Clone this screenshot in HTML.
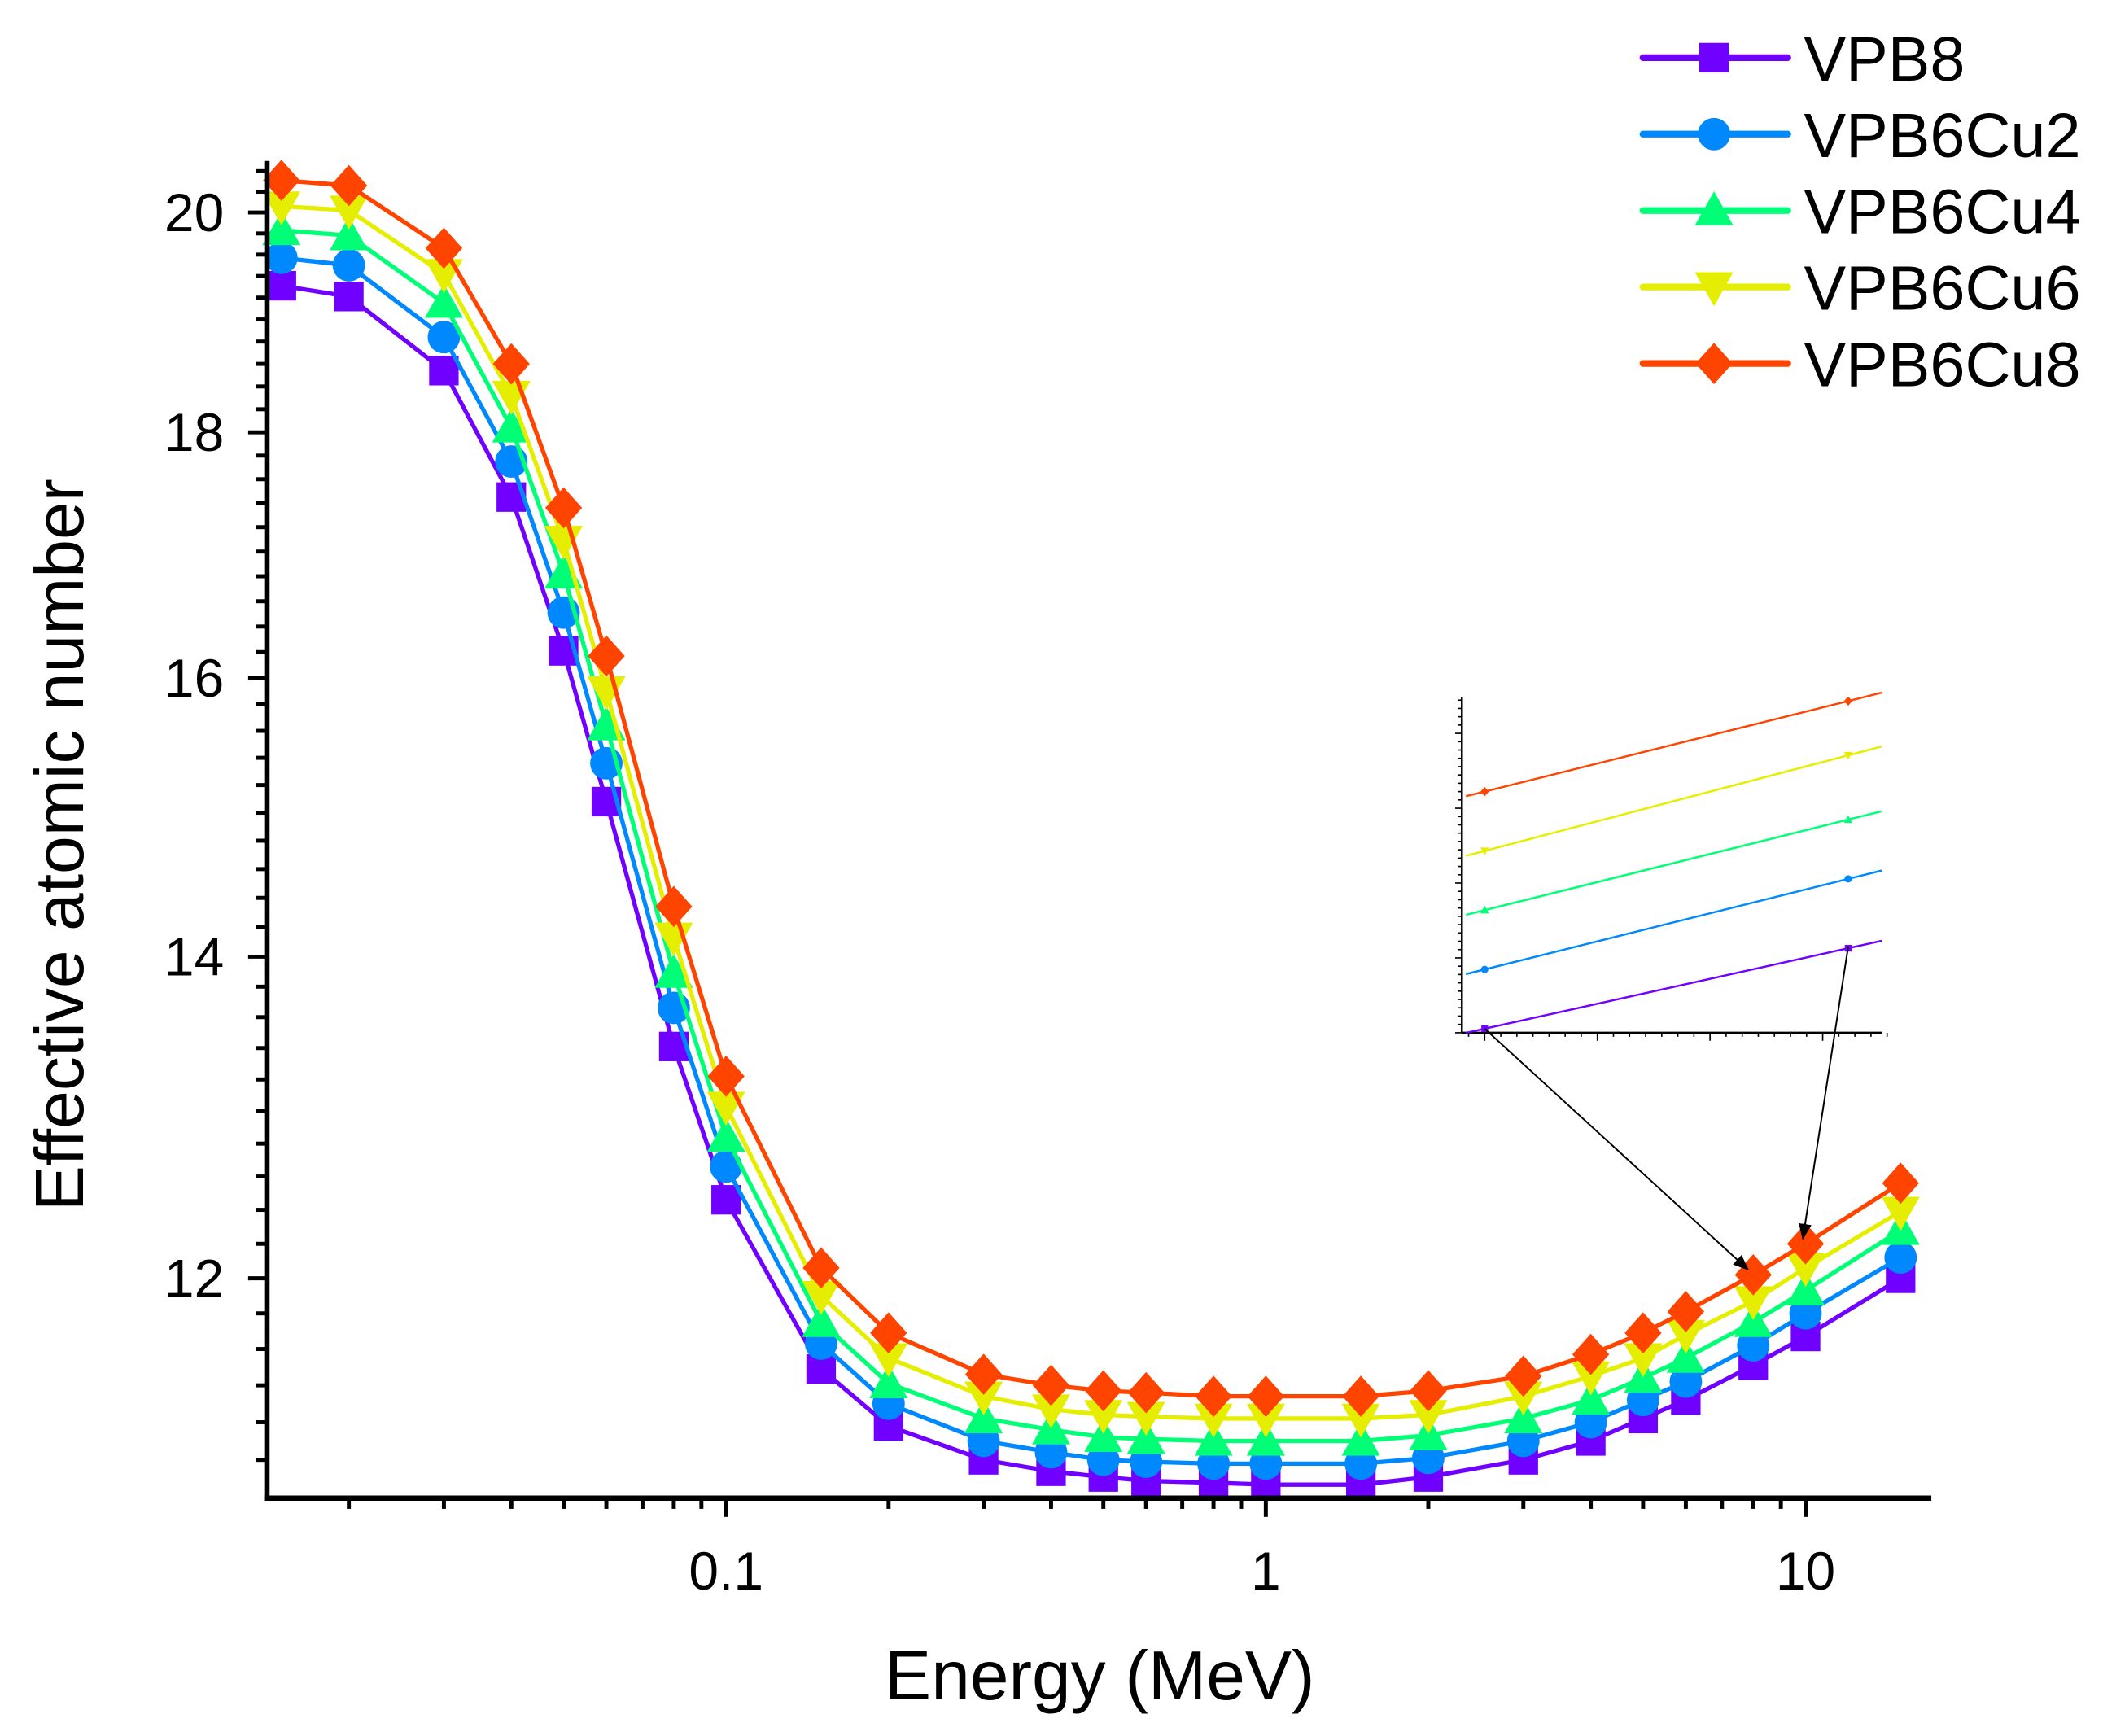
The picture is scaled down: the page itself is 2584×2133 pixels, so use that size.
<!DOCTYPE html>
<html><head><meta charset="utf-8"><style>html,body{margin:0;padding:0;background:#fff}svg{display:block}</style></head>
<body>
<svg id="chart" xmlns="http://www.w3.org/2000/svg" width="2584" height="2133" viewBox="0 0 1568 1294.35" font-family="'Liberation Sans', sans-serif">
<rect width="1568" height="1295" fill="#fff"/>
<g id="plot"></g>
</svg>
<script>
const energies=[0.015,0.02,0.03,0.04,0.05,0.06,0.08,0.1,0.15,0.2,0.3,0.4,0.5,0.6,0.8,1,1.5,2,3,4,5,6,8,10,15];
const vpb8=[19.31,19.21,18.54,17.45,16.21,15.08,13.41,12.46,11.49,11.18,11.00,10.94,10.91,10.89,10.88,10.87,10.87,10.91,11.00,11.10,11.22,11.32,11.51,11.67,12.00];
const vpb6cu2=[19.57,19.50,18.84,17.75,16.51,15.36,13.66,12.66,11.63,11.30,11.10,11.04,11.00,10.99,10.98,10.98,10.98,11.01,11.10,11.20,11.32,11.42,11.62,11.80,12.12];
const vpb6cu4=[19.83,19.78,19.15,18.04,16.82,15.64,13.89,12.84,11.75,11.41,11.22,11.16,11.12,11.11,11.10,11.10,11.10,11.13,11.22,11.32,11.44,11.55,11.75,11.93,12.28];
const vpb6cu6=[20.06,20.02,19.42,18.32,17.09,15.90,14.13,13.03,11.90,11.55,11.34,11.27,11.24,11.23,11.22,11.22,11.22,11.24,11.34,11.45,11.55,11.68,11.87,12.06,12.39];
const vpb6cu8=[20.31,20.26,19.66,18.60,17.36,16.17,14.34,13.22,12.06,11.69,11.46,11.40,11.37,11.36,11.34,11.34,11.34,11.37,11.45,11.57,11.69,11.81,12.02,12.20,12.56];
const seriesNames=["VPB8","VPB6Cu2","VPB6Cu4","VPB6Cu6","VPB6Cu8"];
const yTicks=[12,14,16,18,20];
const xTicks=[0.1,1,10];
const xTickLabels=["0.1","1","10"];

const colors=["#7000FF","#0088FF","#00FF77","#E5EE00","#FF4400"];
const shapes=["square","circle","up","down","diamond"];
const allSeries=[vpb8,vpb6cu2,vpb6cu4,vpb6cu6,vpb6cu8];
const NS="http://www.w3.org/2000/svg";
const g=document.getElementById('plot');
const X0=199,X1=1440,Y0=1117,Y1=120;
const xMin=0.0141,xMax=17.1,yMin=10.8,yMax=20.5;
function xs(v){return X0+(Math.log10(v)-Math.log10(xMin))/(Math.log10(xMax)-Math.log10(xMin))*(X1-X0);}
function ys(v){return Y0-(Math.log10(v)-Math.log10(yMin))/(Math.log10(yMax)-Math.log10(yMin))*(Y0-Y1);}
function el(tag,attrs,parent){const e=document.createElementNS(NS,tag);for(const k in attrs)e.setAttribute(k,attrs[k]);(parent||g).appendChild(e);return e;}
function marker(shape,x,y,s,color,parent){
  let e;
  if(shape==="square")e=el('rect',{x:x-s,y:y-s,width:2*s,height:2*s,fill:color},parent);
  else if(shape==="circle")e=el('circle',{cx:x,cy:y,r:s*1.1,fill:color},parent);
  else if(shape==="up")e=el('polygon',{points:`${x},${y-s*1.3} ${x-s*1.3},${y+s} ${x+s*1.3},${y+s}`,fill:color},parent);
  else if(shape==="down")e=el('polygon',{points:`${x},${y+s*1.3} ${x-s*1.3},${y-s} ${x+s*1.3},${y-s}`,fill:color},parent);
  else e=el('polygon',{points:`${x},${y-s*1.4} ${x+s*1.25},${y} ${x},${y+s*1.4} ${x-s*1.25},${y}`,fill:color},parent);
  return e;
}
allSeries.forEach((vals,i)=>{
  const grp=el('g',{});
  
  
  const pts=vals.map((v,j)=>xs(energies[j])+','+ys(v)).join(' ');
  const pl=el('polyline',{points:pts,fill:'none',stroke:colors[i],'stroke-width':3.2,'stroke-linejoin':'round'},grp);
  
  
  vals.forEach((v,j)=>{
    const m=marker(shapes[i],xs(energies[j]),ys(v),11,colors[i],grp);
    
    
  });
});
const ax=el('g',{});


el('line',{x1:X0,y1:Y1,x2:X0,y2:Y0+2,stroke:'#000','stroke-width':4},ax);
el('line',{x1:X0-2,y1:Y0,x2:X1,y2:Y0,stroke:'#000','stroke-width':4},ax);
for(let k=55;k<=102;k++){
  const v=k/5;
  const major=yTicks.includes(v);
  el('line',{x1:X0,x2:X0-(major?14:8),y1:ys(v),y2:ys(v),stroke:'#000','stroke-width':3},ax);
}
yTicks.forEach(v=>{
  const t=el('text',{x:X0-32,y:ys(v)+14,'font-size':40,'text-anchor':'end'},ax);
  t.textContent=v;
  
  
});
for(let d=-2;d<=1;d++)for(let m=1;m<=9;m++){
  const v=m*Math.pow(10,d);
  if(v<xMin||v>xMax)continue;
  el('line',{x1:xs(v),x2:xs(v),y1:Y0,y2:Y0+(m===1?14:8),stroke:'#000','stroke-width':3},ax);
}
xTicks.forEach((v,i)=>{
  const t=el('text',{x:xs(v),y:Y0+68,'font-size':40,'text-anchor':'middle'},ax);
  t.textContent=xTickLabels[i];
  
  
});
const xt=el('text',{x:820,y:1267,'font-size':52,'text-anchor':'middle'},ax);
xt.textContent='Energy (MeV)';


const yt=el('text',{x:62,y:630,'font-size':51,'text-anchor':'middle',transform:'rotate(-90 62 630)'},ax);
yt.textContent='Effective atomic number';


const lg=el('g',{});


seriesNames.forEach((n,i)=>{
  const y=43+i*57;
  const e=el('g',{},lg);
  
  
  el('line',{x1:1225,x2:1333,y1:y,y2:y,stroke:colors[i],'stroke-width':5,'stroke-linecap':'round'},e);
  marker(shapes[i],1278,y,11,colors[i],e);
  const t=el('text',{x:1345,y:y+17,'font-size':47},e);
  t.textContent=n;
});
const ins=el('g',{});


const IX0=1090,IX1=1403,IY0=770,IY1=520;
el('line',{x1:IX0,y1:IY1,x2:IX0,y2:IY0,stroke:'#000','stroke-width':1.5},ins);
el('line',{x1:IX0,y1:IY0,x2:IX1,y2:IY0,stroke:'#000','stroke-width':1.5},ins);
for(let k=0;k<=40;k++){const y=IY0-k*6.2;el('line',{x1:IX0,x2:IX0-(k%9===0?5:3),y1:y,y2:y,stroke:'#000','stroke-width':1},ins);}
for(let k=0;k<=26;k++){const x=IX0+5+k*12;el('line',{x1:x,x2:x,y1:IY0,y2:IY0+(k%7===1?6:3),stroke:'#000','stroke-width':1},ins);}
const i8=energies.indexOf(8),i10=energies.indexOf(10);
const PX8=1107,PX10=1378;
allSeries.forEach((vals,i)=>{
  const k=375;
  const yl=767-i*44.2;
  const drop=(vals[i10]-vals[i8])*k;
  const iy=x=>yl-(x-PX8)/(PX10-PX8)*drop;
  const ln=el('line',{x1:1093,y1:iy(1093),x2:IX1,y2:iy(IX1),stroke:colors[i],'stroke-width':1.5},ins);
  
  
  marker(shapes[i],PX8,iy(PX8),2.5,colors[i],ins);
  marker(shapes[i],PX10,iy(PX10),2.5,colors[i],ins);
});
el('defs',{},ins).innerHTML='<marker id="ah" markerWidth="10" markerHeight="8" refX="9" refY="4" orient="auto"><path d="M0,0 L10,4 L0,8z" fill="#000"/></marker>';
el('line',{x1:1107,y1:767,x2:xs(8)-4,y2:ys(vpb6cu8[i8])-4,stroke:'#000','stroke-width':1.2,'marker-end':'url(#ah)'},ins);
el('line',{x1:1378,y1:706,x2:xs(10)-2,y2:ys(vpb6cu8[i10])-4,stroke:'#000','stroke-width':1.2,'marker-end':'url(#ah)'},ins);
</script>
</body></html>
